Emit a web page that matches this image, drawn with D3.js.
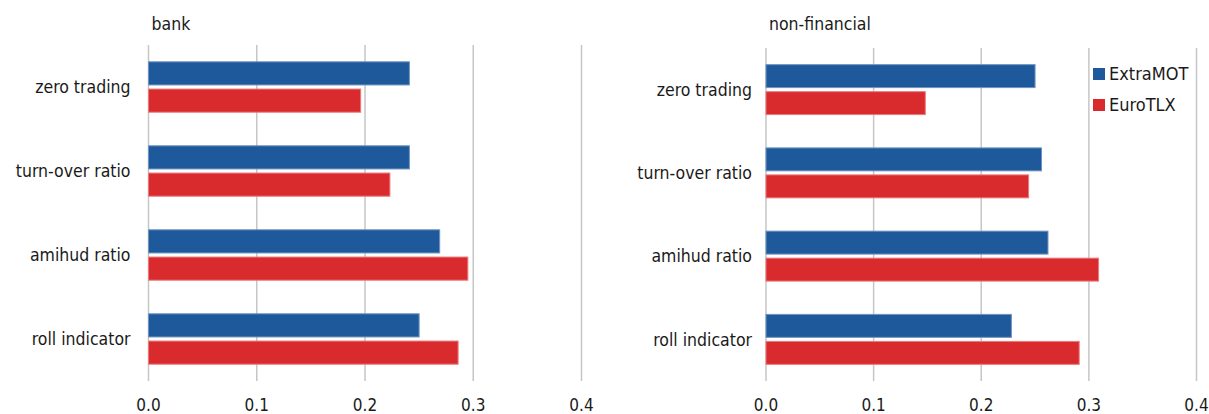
<!DOCTYPE html>
<html>
<head>
<meta charset="utf-8">
<script src="https://cdn.jsdelivr.net/npm/d3@7"></script>
<style>
    body { margin: 0; background: #fff; }
    text { font-family: "Liberation Sans Narrow", "DejaVu Sans Condensed", sans-serif; fill: #1a1a1a; }
</style>
</head>
<body>
<div class="chart-container"></div>
<script>
// Chart data
const categories = ['zero trading', 'turn-over ratio', 'amihud ratio', 'roll indicator'];
const seriesNames = ['ExtraMOT', 'EuroTLX'];
const bankExtraMOT = [0.241, 0.241, 0.269, 0.250];
const bankEuroTLX = [0.196, 0.223, 0.295, 0.286];
const nonFinExtraMOT = [0.250, 0.256, 0.262, 0.228];
const nonFinEuroTLX = [0.148, 0.244, 0.309, 0.291];
const xTicks = [0.0, 0.1, 0.2, 0.3, 0.4];

// Layout params
const width = 1209;
const height = 414;
const colors = { ExtraMOT: '#1e5a9b', EuroTLX: '#d92b2e' };
const strokes = { ExtraMOT: '#6f93c0', EuroTLX: '#ea7a7c' };

const panels = [
    { title: 'bank', values: [bankExtraMOT, bankEuroTLX], x0: 148.5, x1: 581.5, top: 45, bottom: 381, labelGap: 18 },
    { title: 'non-financial', values: [nonFinExtraMOT, nonFinEuroTLX], x0: 766, x1: 1196.5, top: 48, bottom: 381, labelGap: 14 }
];

const svg = d3.select('.chart-container')
    .append('svg')
    .attr('width', width)
    .attr('height', height);

// Draw one bar panel
function drawPanel(p) {
    const x = d3.scaleLinear().domain([0, 0.4]).range([p.x0, p.x1]);
    const y = d3.scaleBand().domain(categories).range([p.top, p.bottom]);
    const bw = y.bandwidth();
    const ySeries = d3.scaleBand().domain(seriesNames)
        .range([bw * 0.2, bw * 0.8])
        .paddingInner(0.15);

    const g = svg.append('g');

    // Gridlines
    g.selectAll('.grid')
        .data(xTicks)
        .enter()
        .append('line')
        .attr('x1', d => x(d))
        .attr('x2', d => x(d))
        .attr('y1', p.top)
        .attr('y2', p.bottom)
        .attr('stroke', '#c6c6c6')
        .attr('stroke-width', 1.5);

    // Tick labels
    g.selectAll('.tick-label')
        .data(xTicks)
        .enter()
        .append('text')
        .attr('x', d => x(d))
        .attr('y', 411)
        .attr('text-anchor', 'middle')
        .style('font-size', '17px')
        .text(d => d3.format('.1f')(d));

    // Category labels
    g.selectAll('.cat-label')
        .data(categories)
        .enter()
        .append('text')
        .attr('x', p.x0 - p.labelGap)
        .attr('y', d => y(d) + bw / 2)
        .attr('dy', '0.35em')
        .attr('text-anchor', 'end')
        .style('font-size', '17.5px')
        .text(d => d);

    // Bars
    seriesNames.forEach((s, i) => {
        g.selectAll('.bar-' + s)
            .data(p.values[i])
            .enter()
            .append('rect')
            .attr('x', x(0))
            .attr('y', (d, j) => y(categories[j]) + ySeries(s))
            .attr('width', d => x(d) - x(0))
            .attr('height', ySeries.bandwidth())
            .attr('fill', colors[s])
            .attr('stroke', strokes[s])
            .attr('stroke-width', 1);
    });

    // Panel title
    g.append('text')
        .attr('x', p.x0 + 3)
        .attr('y', 30)
        .style('font-size', '17.5px')
        .text(p.title);
}

panels.forEach(drawPanel);

// Legend
const legend = svg.append('g')
    .attr('transform', 'translate(1093, 68)');

legend.selectAll('rect')
    .data(seriesNames)
    .enter()
    .append('rect')
    .attr('x', 0)
    .attr('y', (d, i) => i * 31)
    .attr('width', 12)
    .attr('height', 12)
    .attr('fill', d => colors[d]);

legend.selectAll('text')
    .data(seriesNames)
    .enter()
    .append('text')
    .attr('x', 16)
    .attr('y', (d, i) => i * 31 + 6)
    .attr('dy', '0.35em')
    .style('font-size', '18px')
    .text(d => d);
</script>
</body>
</html>
